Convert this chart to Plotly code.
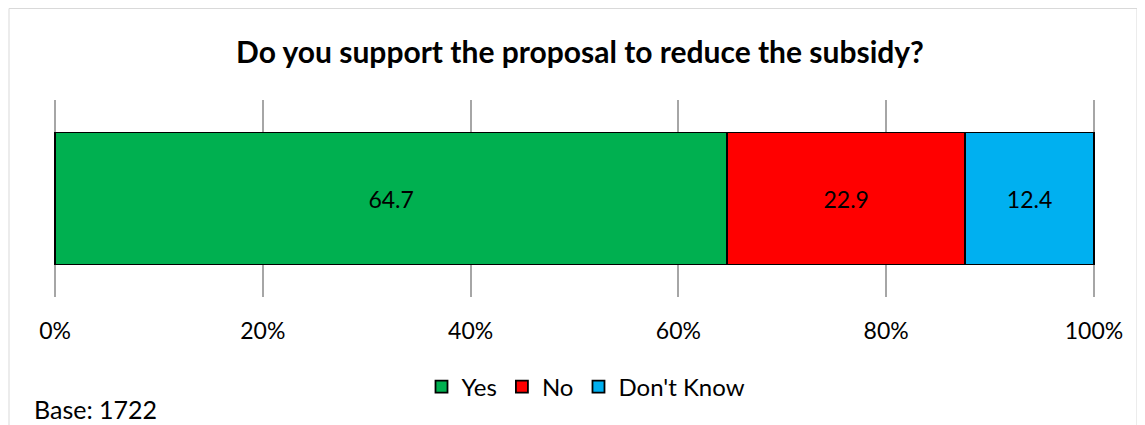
import plotly.graph_objects as go

categories = ["Q"]
series_names = ["Yes", "No", "Don't Know"]
series_values = [[64.7], [22.9], [12.4]]
series_colors = ["#00B050", "#FF0000", "#00B0F0"]
tick_vals = [0, 20, 40, 60, 80, 100]
tick_text = ["0%", "20%", "40%", "60%", "80%", "100%"]
title_text = "Do you support the proposal to reduce the subsidy?"
base_text = "Base: 1722"

FONT = "Lato, Calibri, Carlito, sans-serif"
OFF = 8  # page body margin
W, H = 1145 - OFF, 425 - OFF
ML, MR, MT, MB = 54 - OFF, W - (1095 - OFF), 100 - OFF, H - (297 - OFF)

fig = go.Figure()
for name, vals, col in zip(series_names, series_values, series_colors):
    fig.add_trace(go.Bar(
        y=categories, x=vals, name=name, orientation="h",
        marker=dict(color=col, line=dict(color="black", width=1.8)),
        text=[f"{v:.1f}" for v in vals], textposition="inside",
        insidetextanchor="middle",
        textfont=dict(family=FONT, size=23, color="black"),
        width=0.67,
    ))

pw = W - ML - MR
ph = H - MT - MB


def py(page_y):
    """page pixel y -> paper y"""
    return (MT + ph - (page_y - OFF)) / ph


def px(page_x):
    return (page_x - OFF - ML) / pw


fig.add_shape(type="rect", xref="paper", yref="paper",
              x0=px(9), x1=px(1137), y0=py(460), y1=py(8.5),
              line=dict(color="#D9D9D9", width=1), fillcolor="rgba(0,0,0,0)",
              layer="below")

fig.update_layout(
    width=W, height=H, barmode="stack",
    margin=dict(l=ML, r=MR, t=MT, b=MB),
    paper_bgcolor="white", plot_bgcolor="white",
    title=dict(text=f"<b>{title_text}</b>", x=(580 - OFF) / W, xanchor="center",
               y=1 - (52 - OFF) / H, yanchor="middle",
               font=dict(family=FONT, size=30, color="black")),
    xaxis=dict(range=[-0.1, 100.1], tickvals=tick_vals, ticktext=tick_text,
               showgrid=True, gridcolor="#A6A6A6", gridwidth=1.5,
               zeroline=False, showline=False, ticks="",
               ticklabelstandoff=18,
               tickfont=dict(family=FONT, size=23, color="black")),
    yaxis=dict(showticklabels=False, showgrid=False, zeroline=False,
               range=[-0.5, 0.5]),
    legend=dict(orientation="h", x=(586 - OFF) / W, xref="container", xanchor="center",
                y=1 - (387 - OFF) / H, yref="container", yanchor="middle",
                font=dict(family=FONT, size=24, color="black"),
                itemwidth=30, traceorder="normal"),
    showlegend=True,
    annotations=[dict(text=base_text, xref="paper", yref="paper",
                      x=px(32), xanchor="left",
                      y=py(409), yanchor="middle",
                      showarrow=False,
                      font=dict(family=FONT, size=25, color="black"))],
)

fig.write_html("out.html")
